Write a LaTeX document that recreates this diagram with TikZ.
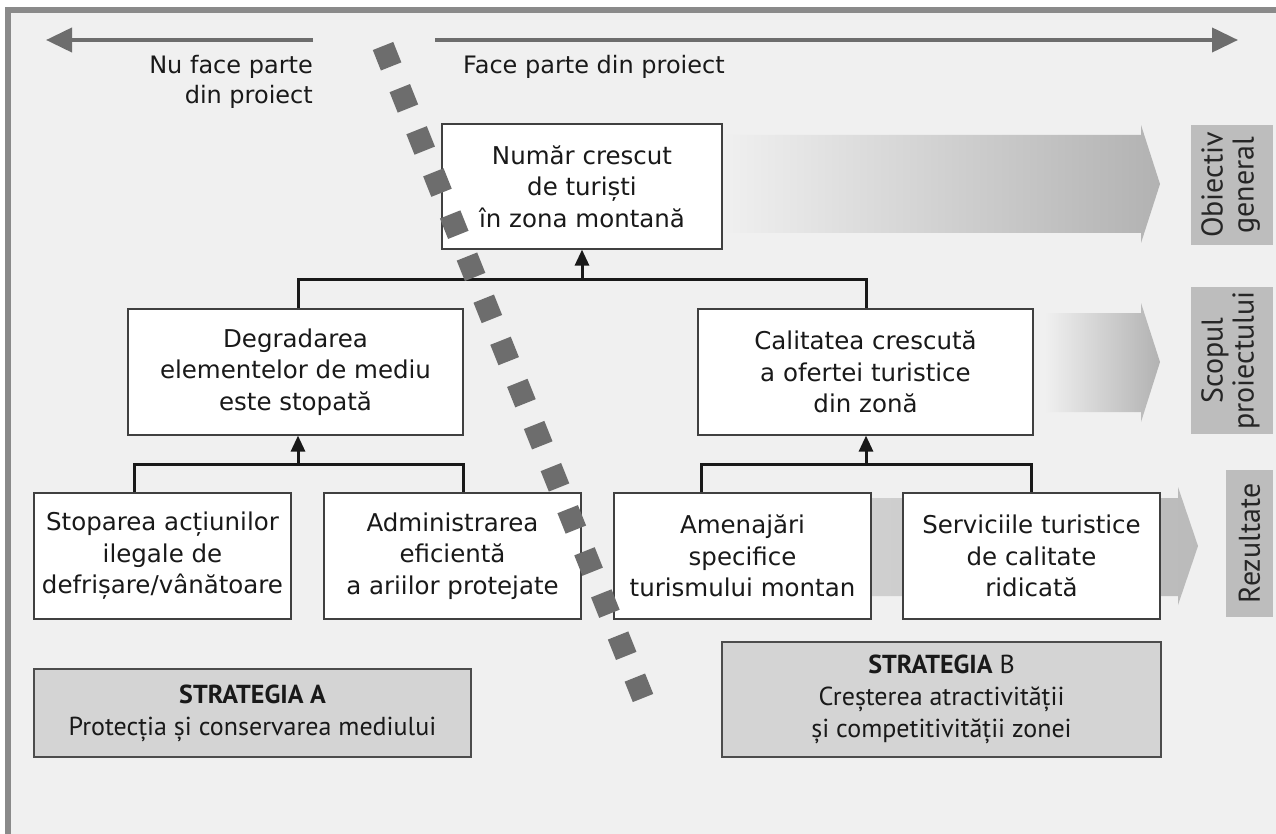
\documentclass[tikz,border=0pt]{standalone}
\usepackage{fontspec}
\setmainfont{DejaVu Sans}
\newfontfamily\labfont{PT Sans}
\usetikzlibrary{arrows.meta}
\definecolor{bg}{HTML}{F0F0F0}
\definecolor{framegray}{HTML}{8A8A8A}
\definecolor{darkg}{HTML}{6D6D6D}
\definecolor{labgray}{HTML}{BDBDBD}
\definecolor{stratgray}{HTML}{D4D4D4}
\definecolor{arrgray}{HTML}{B2B2B2}
\tikzset{
  box/.style={draw=black!75, line width=1.2pt, fill=white, align=center,
    inner sep=0pt, font=\fontsize{24.5}{31.5}\selectfont, text=black!90},
  conn/.style={draw=black!90, line width=3pt},
  upar/.style={conn, -{Triangle[width=14pt,length=16pt]}},
  lab/.style={fill=labgray, inner sep=0pt, align=center,
    font=\labfont\fontsize{30}{31}\selectfont, text=black!85},
  strat/.style={draw=black!70, line width=1.2pt, fill=stratgray, align=center,
    inner sep=0pt, font=\labfont\fontsize{26}{32}\selectfont, text=black!90},
  toptxt/.style={font=\fontsize{24}{30}\selectfont, inner sep=0pt, text=black!90},
  bigarr/.style={line width=4pt, draw=darkg, -{Triangle[length=26pt,width=24pt]}},
  sqline/.style={draw=darkg, line width=22pt, dash pattern=on 22pt off 23.33pt}
}
\begin{document}
\begin{tikzpicture}[x=1pt,y=-1pt]
\useasboundingbox (0,0) rectangle (1276,834);
\fill[white] (0,0) rectangle (1276,834);
\fill[bg] (8,10.5) rectangle (1276,834);
\draw[framegray, line width=6pt] (8,834) -- (8,10.5) -- (1276,10.5);

% top arrows
\coordinate (la0) at (313,40);
\coordinate (la1) at (46,40);
\coordinate (ra0) at (435,40);
\coordinate (ra1) at (1238,40);
\draw[bigarr] (la0) -- (la1);
\draw[bigarr] (ra0) -- (ra1);
\node[toptxt, align=right, anchor=north east] (nu) at (313,55) {Nu face parte\\din proiect};
\node[toptxt, anchor=north west] (face) at (463,55) {Face parte din proiect};

% gradient arrows
\path[left color=bg, right color=arrgray] (722,135) -- (1141,135) -- (1141,125) -- (1160,184) -- (1141,243) -- (1141,233) -- (722,233) -- cycle;
\path[left color=bg, right color=arrgray] (1045,313) -- (1141,313) -- (1141,303) -- (1160,362) -- (1141,422) -- (1141,412) -- (1045,412) -- cycle;
\path[left color=black!12, right color=black!27] (620,498) -- (1178,498) -- (1178,487) -- (1198,546) -- (1178,605) -- (1178,596) -- (620,596) -- cycle;

% label boxes
\node[lab, minimum width=82pt, minimum height=120pt] (l1) at (1232,185) {\rotatebox{90}{\begin{tabular}{@{}c@{}}Obiectiv\\general\end{tabular}}};
\node[lab, minimum width=82pt, minimum height=147pt] (l2) at (1232,360.5) {\rotatebox{90}{\begin{tabular}{@{}c@{}}Scopul\\proiectului\end{tabular}}};
\node[lab, minimum width=47pt, minimum height=147pt] (l3) at (1249.5,543.5) {\rotatebox{90}{Rezultate}};

% boxes
\node[box, minimum width=280pt, minimum height=125pt] (top) at (582,186.5) {Număr crescut\\de turiști\\în zona montană};
\node[box, minimum width=335pt, minimum height=126pt] (deg) at (295.5,372) {Degradarea\\elementelor de mediu\\este stopată};
\node[box, minimum width=335pt, minimum height=126pt] (cal) at (865.5,372) {Calitatea crescută\\a ofertei turistice\\din zonă};
\node[box, minimum width=257pt, minimum height=126pt] (b1) at (162.5,556) {Stoparea acțiunilor\\ilegale de\\defrișare/vânătoare};
\node[box, minimum width=257pt, minimum height=126pt] (b2) at (452.5,556) {Administrarea\\eficientă\\a ariilor protejate};
\node[box, minimum width=257pt, minimum height=126pt] (b3) at (742.5,556) {Amenajări\\specifice\\turismului montan};
\node[box, minimum width=257pt, minimum height=126pt] (b4) at (1031.5,556) {Serviciile turistice\\de calitate\\ridicată};

% connectors
\coordinate (j1) at (582,279);
\draw[conn] (deg.north -| 298,0) |- (j1) -| (cal.north -| 866,0);
\draw[upar] (j1) -- (top.south);
\coordinate (j2) at (298,464);
\draw[conn] (b1.north -| 134,0) |- (j2) -| (b2.north -| 463,0);
\draw[upar] (j2) -- (j2 |- deg.south);
\coordinate (j3) at (866,464);
\draw[conn] (b3.north -| 701,0) |- (j3) -| (b4.north -| 1031,0);
\draw[upar] (j3) -- (j3 |- cal.south);

% strategies
\node[strat, minimum width=437pt, minimum height=88pt] (sa) at (252.5,713) {\textbf{STRATEGIA A}\\Protecția și conservarea mediului};
\node[strat, minimum width=439pt, minimum height=115pt] (sb) at (941.5,699.5) {\textbf{STRATEGIA} B\\Creșterea atractivității\\și competitivității zonei};

% separating dotted line
\coordinate (d0) at (383,46);
\coordinate (d1) at (643,698);
\draw[sqline] (d0) -- (d1);
\end{tikzpicture}
\end{document}
